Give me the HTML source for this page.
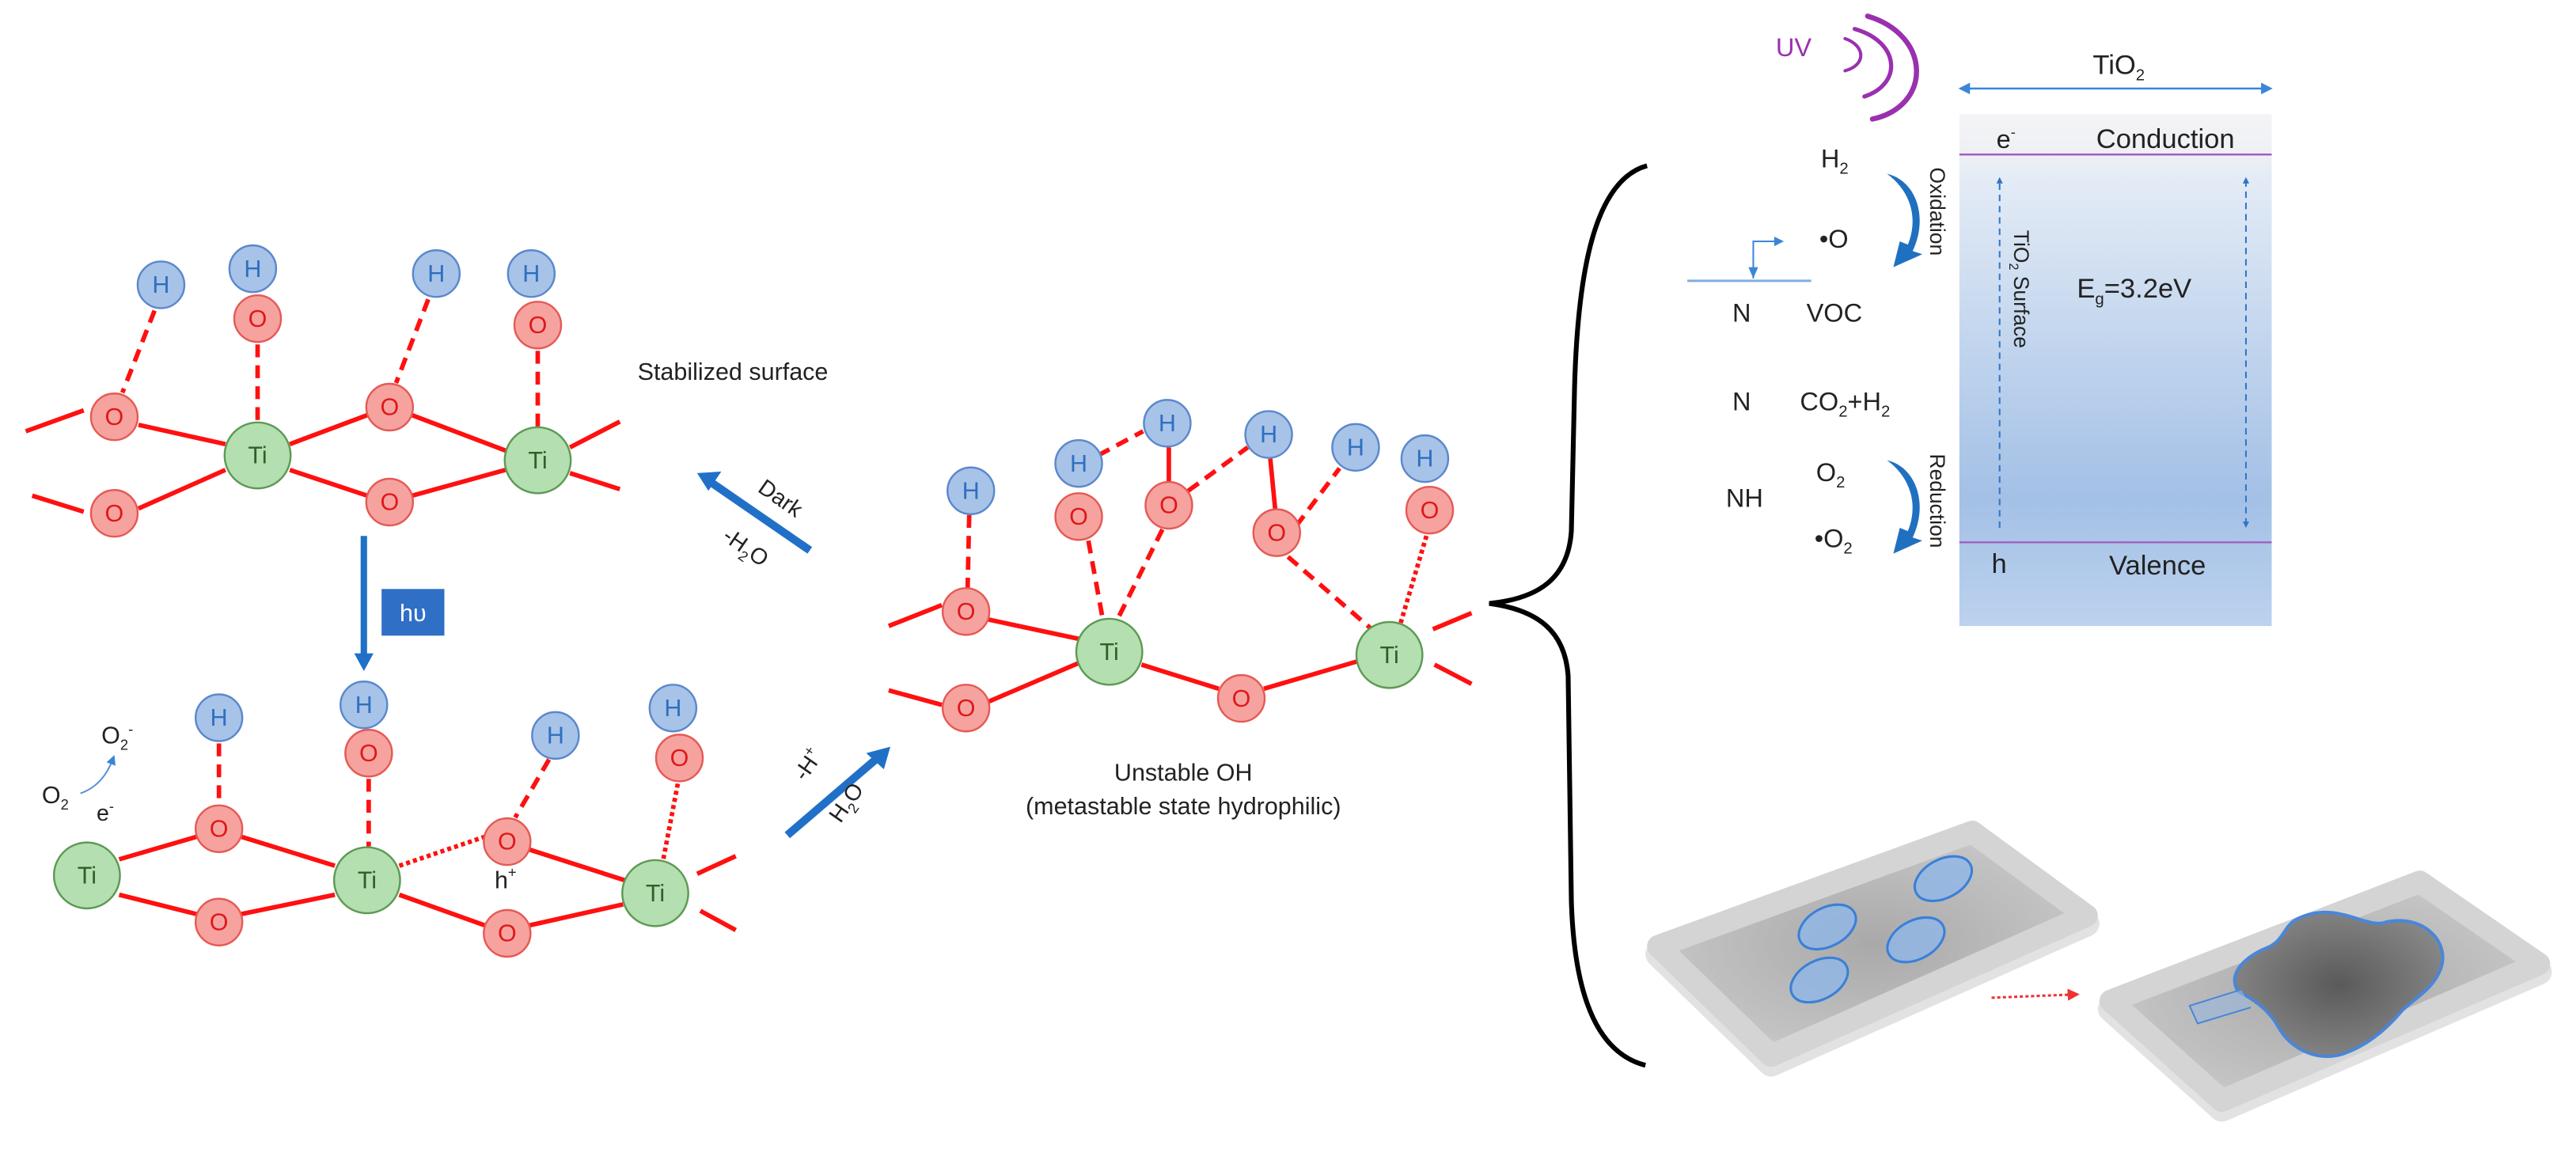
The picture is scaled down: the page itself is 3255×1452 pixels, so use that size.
<!DOCTYPE html>
<html><head><meta charset="utf-8"><style>
html,body{margin:0;padding:0;background:#fff;}
svg{display:block;}
text{font-family:"Liberation Sans",sans-serif;}
</style></head><body>
<svg width="3255" height="1452" viewBox="0 0 1600 714" preserveAspectRatio="none" xmlns="http://www.w3.org/2000/svg">
<defs>
<linearGradient id="band" x1="0" y1="0" x2="0" y2="1">
<stop offset="0" stop-color="#f4f4f6"/><stop offset="0.08" stop-color="#eef0f4"/>
<stop offset="0.12" stop-color="#e4ecf6"/><stop offset="0.75" stop-color="#a3c0e6"/>
<stop offset="1" stop-color="#bcd2ee"/></linearGradient>
<marker id="ab" viewBox="0 0 10 10" refX="5" refY="5" markerWidth="4" markerHeight="4" orient="auto-start-reverse"><path d="M0,0L10,5L0,10z" fill="#2f75c8"/></marker>
<marker id="as" viewBox="0 0 10 10" refX="5" refY="5" markerWidth="6" markerHeight="6" orient="auto-start-reverse"><path d="M0,0L10,5L0,10z" fill="#3a86d8"/></marker>
<marker id="ar" viewBox="0 0 10 10" refX="5" refY="5" markerWidth="5" markerHeight="5" orient="auto"><path d="M0,0L10,5L0,10z" fill="#e33"/></marker>
<radialGradient id="plate" cx="0.5" cy="0.5" r="0.6"><stop offset="0" stop-color="#a9a9a9"/><stop offset="0.8" stop-color="#c4c4c4"/><stop offset="1" stop-color="#e6e6e6"/></radialGradient>
<radialGradient id="blob" cx="0.5" cy="0.5" r="0.6"><stop offset="0" stop-color="#5a5a5a"/><stop offset="1" stop-color="#8a8a8a"/></radialGradient>
</defs>

<g stroke="#ff1010" stroke-width="2.8" fill="none">
<line x1="16" y1="268" x2="52" y2="255"/><line x1="20" y1="308" x2="52" y2="318"/>
<line x1="86" y1="264" x2="140" y2="276"/><line x1="86" y1="316" x2="140" y2="292"/>
<line x1="180" y1="276" x2="228" y2="258"/><line x1="180" y1="292" x2="228" y2="308"/>
<line x1="256" y1="258" x2="314" y2="280"/><line x1="256" y1="308" x2="314" y2="292"/>
<line x1="354" y1="278" x2="385" y2="262"/><line x1="354" y1="294" x2="385" y2="304"/>
<g stroke-dasharray="8,5"><line x1="96" y1="193" x2="76" y2="244"/><line x1="160" y1="214" x2="160" y2="262"/>
<line x1="266" y1="186" x2="246" y2="238"/><line x1="334" y1="218" x2="334" y2="265"/></g>
<line x1="74" y1="534" x2="122" y2="520"/><line x1="74" y1="556" x2="122" y2="568"/>
<line x1="150" y1="520" x2="208" y2="538"/><line x1="150" y1="568" x2="208" y2="556"/>
<line x1="248" y1="556" x2="301" y2="575"/><line x1="329" y1="575" x2="387" y2="562"/>
<line x1="329" y1="528" x2="388" y2="547"/>
<line x1="433" y1="543" x2="457" y2="532"/><line x1="435" y1="566" x2="457" y2="578"/>
<g stroke-dasharray="8,5"><line x1="136" y1="462" x2="136" y2="500"/><line x1="229" y1="484" x2="229" y2="526"/>
<line x1="341" y1="472" x2="320" y2="508"/></g>
<g stroke-dasharray="2.5,2"><line x1="248" y1="538" x2="301" y2="520"/><line x1="421" y1="487" x2="412" y2="534"/></g>
<line x1="552" y1="389" x2="585" y2="376"/><line x1="552" y1="429" x2="585" y2="438"/>
<line x1="614" y1="385" x2="670" y2="397"/><line x1="614" y1="436" x2="670" y2="412"/>
<line x1="709" y1="413" x2="757" y2="428"/><line x1="785" y1="428" x2="843" y2="411"/>
<line x1="890" y1="391" x2="914" y2="381"/><line x1="891" y1="413" x2="914" y2="425"/>
<line x1="726" y1="278" x2="726" y2="299"/><line x1="789" y1="285" x2="792" y2="316"/>
<g stroke-dasharray="8,5"><line x1="602" y1="320" x2="601" y2="366"/>
<line x1="676" y1="336" x2="685" y2="385"/><line x1="722" y1="329" x2="694" y2="385"/>
<line x1="682" y1="283" x2="710" y2="268"/><line x1="738" y1="305" x2="775" y2="278"/>
<line x1="805" y1="327" x2="832" y2="291"/><line x1="800" y1="346" x2="852" y2="391"/></g>
<g stroke-dasharray="2.5,2"><line x1="886" y1="333" x2="870" y2="387"/></g>
</g>

<g font-size="15" text-anchor="middle" stroke-width="1.2">
<g fill="#a8c3e8" stroke="#5b88cc">
<circle cx="100" cy="177" r="14.5"/><circle cx="157" cy="167" r="14.5"/><circle cx="271" cy="170" r="14.5"/><circle cx="330" cy="170" r="14.5"/>
<circle cx="136" cy="446" r="14.5"/><circle cx="226" cy="438" r="14.5"/><circle cx="345" cy="457" r="14.5"/><circle cx="418" cy="440" r="14.5"/>
<circle cx="603" cy="305" r="14.5"/><circle cx="670" cy="288" r="14.5"/><circle cx="725" cy="263" r="14.5"/><circle cx="788" cy="270" r="14.5"/><circle cx="842" cy="278" r="14.5"/><circle cx="885" cy="285" r="14.5"/>
</g>
<g fill="#2f6fc0">
<text x="100" y="182">H</text><text x="157" y="172">H</text><text x="271" y="175">H</text><text x="330" y="175">H</text>
<text x="136" y="451">H</text><text x="226" y="443">H</text><text x="345" y="462">H</text><text x="418" y="445">H</text>
<text x="603" y="310">H</text><text x="670" y="293">H</text><text x="725" y="268">H</text><text x="788" y="275">H</text><text x="842" y="283">H</text><text x="885" y="290">H</text>
</g>
<g fill="#f6a3a0" stroke="#e55a55">
<circle cx="160" cy="198" r="14.5"/><circle cx="334" cy="202" r="14.5"/><circle cx="71" cy="259" r="14.5"/><circle cx="242" cy="253" r="14.5"/><circle cx="71" cy="319" r="14.5"/><circle cx="242" cy="312" r="14.5"/>
<circle cx="136" cy="515" r="14.5"/><circle cx="229" cy="468" r="14.5"/><circle cx="136" cy="573" r="14.5"/><circle cx="315" cy="523" r="14.5"/><circle cx="315" cy="580" r="14.5"/><circle cx="422" cy="471" r="14.5"/>
<circle cx="600" cy="380" r="14.5"/><circle cx="600" cy="440" r="14.5"/><circle cx="670" cy="321" r="14.5"/><circle cx="726" cy="314" r="14.5"/><circle cx="793" cy="331" r="14.5"/><circle cx="888" cy="317" r="14.5"/><circle cx="771" cy="434" r="14.5"/>
</g>
<g fill="#e01818">
<text x="160" y="203">O</text><text x="334" y="207">O</text><text x="71" y="264">O</text><text x="242" y="258">O</text><text x="71" y="324">O</text><text x="242" y="317">O</text>
<text x="136" y="520">O</text><text x="229" y="473">O</text><text x="136" y="578">O</text><text x="315" y="528">O</text><text x="315" y="585">O</text><text x="422" y="476">O</text>
<text x="600" y="385">O</text><text x="600" y="445">O</text><text x="670" y="326">O</text><text x="726" y="319">O</text><text x="793" y="336">O</text><text x="888" y="322">O</text><text x="771" y="439">O</text>
</g>
<g fill="#b4dfb0" stroke="#5d9a55">
<circle cx="160" cy="283" r="20.5"/><circle cx="334" cy="286" r="20.5"/>
<circle cx="54" cy="544" r="20.5"/><circle cx="228" cy="547" r="20.5"/><circle cx="407" cy="555" r="20.5"/>
<circle cx="689" cy="405" r="20.5"/><circle cx="863" cy="407" r="20.5"/>
</g>
<g fill="#2f5f2a">
<text x="160" y="288">Ti</text><text x="334" y="291">Ti</text>
<text x="54" y="549">Ti</text><text x="228" y="552">Ti</text><text x="407" y="560">Ti</text>
<text x="689" y="410">Ti</text><text x="863" y="412">Ti</text>
</g>
</g>

<text x="396" y="236" font-size="15" fill="#222">Stabilized surface</text>
<text x="735" y="485" font-size="15" fill="#222" text-anchor="middle">Unstable OH</text>
<text x="735" y="506" font-size="15" fill="#222" text-anchor="middle">(metastable state hydrophilic)</text>
<text x="314" y="552" font-size="15" fill="#222" text-anchor="middle">h<tspan font-size="9" dy="-7">+</tspan></text>
<text x="26" y="499" font-size="15" fill="#222">O<tspan font-size="9" dy="4">2</tspan></text>
<text x="60" y="510" font-size="14" fill="#222">e<tspan font-size="9" dy="-6">-</tspan></text>
<text x="63" y="462" font-size="15" fill="#222">O<tspan font-size="9" dy="4">2</tspan><tspan font-size="9" dy="-10">-</tspan></text>
<path d="M50,493 Q64,488 70,472" stroke="#5590d8" stroke-width="1" fill="none" marker-end="url(#as)"/>

<line x1="503" y1="342" x2="442" y2="300" stroke="#2170c8" stroke-width="5"/>
<path d="M433,294 L448,293 L440,305 z" fill="#2170c8"/>
<text transform="translate(470,305) rotate(35)" font-size="14" fill="#222">Dark</text>
<text transform="translate(448,335) rotate(35)" font-size="14" fill="#222">-H<tspan font-size="9" dy="4">2</tspan><tspan dy="-4">O</tspan></text>
<line x1="226" y1="333" x2="226" y2="408" stroke="#2170c8" stroke-width="4"/>
<path d="M220,406 L232,406 L226,417 z" fill="#2170c8"/>
<rect x="237" y="366" width="39" height="29" fill="#2f6fc6"/>
<text x="256.5" y="386" font-size="15" fill="#fff" text-anchor="middle">hυ</text>
<line x1="489" y1="519" x2="545" y2="471" stroke="#2170c8" stroke-width="5"/>
<path d="M553,464 L549,478 L538,468 z" fill="#2170c8"/>
<text transform="translate(500,486) rotate(-55)" font-size="14" fill="#222">-H<tspan font-size="9" dy="-6">+</tspan></text>
<text transform="translate(522,512) rotate(-55)" font-size="14" fill="#222">H<tspan font-size="9" dy="4">2</tspan><tspan dy="-4">O</tspan></text>

<path d="M1023,103 C990,112 980,170 978,240 L976,330 C974,360 955,372 925,375 C955,379 972,392 974,420 L976,560 C978,625 995,655 1022,662" stroke="#000" stroke-width="3" fill="none"/>

<rect x="1217" y="71" width="194" height="318" fill="url(#band)"/>
<line x1="1217" y1="96" x2="1411" y2="96" stroke="#a060c0" stroke-width="1.2"/>
<line x1="1217" y1="337" x2="1411" y2="337" stroke="#a060c0" stroke-width="1.2"/>
<line x1="1220" y1="55" x2="1408" y2="55" stroke="#3a86d8" stroke-width="1.2" marker-start="url(#as)" marker-end="url(#as)"/>
<text x="1316" y="46" font-size="17" fill="#222" text-anchor="middle">TiO<tspan font-size="10" dy="4">2</tspan></text>
<text x="1240" y="92" font-size="16" fill="#222">e<tspan font-size="9" dy="-7">-</tspan></text>
<text x="1302" y="92" font-size="17" fill="#222">Conduction</text>
<text x="1237" y="356" font-size="17" fill="#222">h</text>
<text x="1310" y="357" font-size="17" fill="#222">Valence</text>
<text x="1290" y="185" font-size="17" fill="#222">E<tspan font-size="10" dy="4">g</tspan><tspan dy="-4">=3.2eV</tspan></text>
<line x1="1242" y1="328" x2="1242" y2="112" stroke="#2f75c8" stroke-width="1" stroke-dasharray="4,3" marker-end="url(#ab)"/>
<line x1="1395" y1="112" x2="1395" y2="326" stroke="#2f75c8" stroke-width="1" stroke-dasharray="4,3" marker-start="url(#ab)" marker-end="url(#ab)"/>
<text transform="translate(1251,143) rotate(90)" font-size="13" fill="#222">TiO<tspan font-size="8" dy="3">2</tspan><tspan dy="-3"> Surface</tspan></text>
<text transform="translate(1199,104) rotate(90)" font-size="13" fill="#222">Oxidation</text>
<text transform="translate(1199,282) rotate(90)" font-size="13" fill="#222">Reduction</text>

<path d="M1172,108 C1190,112 1198,135 1188,156 L1194,158 L1176,166 L1180,150 L1185,152 C1192,135 1186,118 1172,108 z" fill="#2070c0"/>
<path d="M1172,286 C1190,290 1198,313 1188,334 L1194,336 L1176,344 L1180,328 L1185,330 C1192,313 1186,296 1172,286 z" fill="#2070c0"/>

<text x="1103" y="35" font-size="16" fill="#9a30b0">UV</text>
<g stroke="#9a30b0" fill="none" stroke-linecap="round">
<path d="M1146,24 C1158,28 1160,40 1146,44" stroke-width="2"/>
<path d="M1152,18 C1180,26 1182,52 1158,60" stroke-width="2.6"/>
<path d="M1160,10 C1200,22 1200,66 1163,74" stroke-width="3.2"/>
</g>

<g font-size="16" fill="#222">
<text x="1131" y="104">H<tspan font-size="10" dy="4">2</tspan></text>
<text x="1130" y="154">•O</text>
<text x="1076" y="200">N</text><text x="1122" y="200">VOC</text>
<text x="1076" y="255">N</text><text x="1118" y="255">CO<tspan font-size="10" dy="4">2</tspan><tspan dy="-4">+H</tspan><tspan font-size="10" dy="4">2</tspan></text>
<text x="1128" y="299">O<tspan font-size="10" dy="4">2</tspan></text>
<text x="1072" y="315">NH</text>
<text x="1127" y="340">•O<tspan font-size="10" dy="4">2</tspan></text>
</g>
<line x1="1048" y1="174.5" x2="1125" y2="174.5" stroke="#80aee0" stroke-width="1.5"/>
<polyline points="1089,173 1089,150 1103,150" stroke="#3a86d8" stroke-width="1" fill="none"/>
<path d="M1086,166 L1092,166 L1089,173 z" fill="#3a86d8"/><path d="M1102,147 L1108,150 L1102,153 z" fill="#3a86d8"/>

<g>
<path d="M1225,517 L1296,569 L1100,656 L1030,588 Z" fill="#e2e2e2" stroke="#e2e2e2" stroke-width="16" stroke-linejoin="round" transform="translate(0,5)"/>
<path d="M1225,517 L1296,569 L1100,656 L1030,588 Z" fill="url(#plate)" stroke="#d4d4d4" stroke-width="14" stroke-linejoin="round"/>
<g fill="#8fb6e8" stroke="#3a7fd8" stroke-width="1.5" fill-opacity="0.8">
<ellipse cx="1207" cy="546" rx="19" ry="12" transform="rotate(-28 1207 546)"/>
<ellipse cx="1135" cy="576" rx="19" ry="12" transform="rotate(-28 1135 576)"/>
<ellipse cx="1190" cy="584" rx="19" ry="12" transform="rotate(-28 1190 584)"/>
<ellipse cx="1130" cy="609" rx="19" ry="12" transform="rotate(-28 1130 609)"/>
</g>
<line x1="1237" y1="620" x2="1288" y2="618" stroke="#e33" stroke-width="1.5" stroke-dasharray="2,1.5" marker-end="url(#ar)"/>
<path d="M1503,548 L1577,599 L1380,684 L1311,622 Z" fill="#e2e2e2" stroke="#e2e2e2" stroke-width="16" stroke-linejoin="round" transform="translate(0,5)"/>
<path d="M1503,548 L1577,599 L1380,684 L1311,622 Z" fill="url(#plate)" stroke="#d4d4d4" stroke-width="14" stroke-linejoin="round"/>
<path d="M1425,572 C1450,558 1470,578 1482,573 C1505,568 1522,585 1516,602 C1511,615 1500,620 1492,628 C1482,640 1470,650 1455,655 C1438,660 1422,651 1415,638 C1409,627 1398,620 1390,616 C1383,604 1396,594 1408,589 C1418,585 1418,577 1425,572 Z" fill="url(#blob)" stroke="#4a86d8" stroke-width="2"/>
<path d="M1392,615 L1360,625 L1365,636 L1398,626" fill="#9ab8e0" fill-opacity="0.6" stroke="#4a86d8" stroke-width="1"/>
</g>
</svg>
</body></html>
